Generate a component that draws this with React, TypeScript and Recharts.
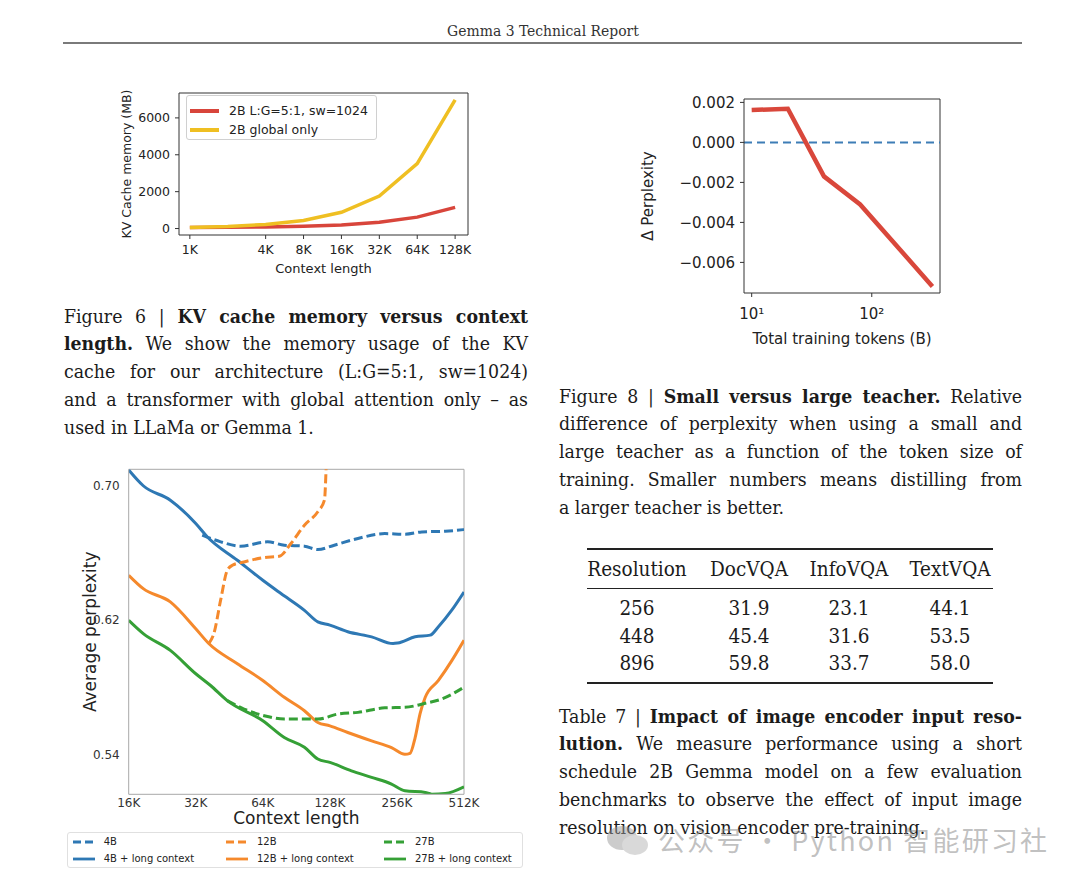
import React from "react";
import { LineChart, Line, XAxis, YAxis, ReferenceLine, Legend } from "recharts";

// ---- Figure 6: KV cache memory vs context length (context in K tokens, memory in MB)
const kvContext = [1, 2, 4, 8, 16, 32, 64, 128];
const kvLocalGlobal = [55, 64, 85, 120, 195, 340, 620, 1150];
const kvGlobalOnly = [55, 110, 220, 440, 880, 1760, 3520, 6980];
const kvTicksX = [1, 4, 8, 16, 32, 64, 128];
const kvTicksY = [0, 2000, 4000, 6000];

// ---- Figure 8: small vs large teacher (tokens in B)
const teacherTokens = [10, 20, 40, 80, 320];
const teacherDelta = [0.00162, 0.00168, -0.0017, -0.0031, -0.0072];
const teacherTicksY = [0.002, 0, -0.002, -0.004, -0.006];
const teacherTicksX = [10, 100];

// ---- Long context perplexity (context in K tokens)
const blueSolidX = [16, 18.6, 24.6, 32, 36, 49.2, 64, 77.2, 98.4, 113, 128, 154, 197, 246, 258, 309, 361, 393, 452, 512];
const blueSolidY = [0.7094, 0.7, 0.6914, 0.6775, 0.6696, 0.6556, 0.6437, 0.6358, 0.6258, 0.6189, 0.617, 0.613, 0.61, 0.606, 0.6063, 0.61, 0.611, 0.616, 0.626, 0.6367];
const blueDashX = [34.2, 41.4, 50.9, 67.2, 79.9, 98.4, 113, 134, 171, 226, 278, 331, 422, 512];
const blueDashY = [0.6706, 0.6666, 0.664, 0.6666, 0.6646, 0.664, 0.662, 0.6646, 0.6686, 0.6715, 0.6711, 0.6725, 0.6729, 0.6739];
const orangeSolidX = [16, 18.6, 24.6, 32, 36.6, 49.2, 64, 79.9, 98.4, 113, 128, 154, 197, 242, 278, 293, 309, 325, 343, 393, 452, 512];
const orangeSolidY = [0.6467, 0.6387, 0.6308, 0.6148, 0.606, 0.594, 0.584, 0.574, 0.566, 0.559, 0.557, 0.553, 0.548, 0.544, 0.54, 0.5406, 0.55, 0.5641, 0.574, 0.584, 0.596, 0.608];
const orangeDashX = [36.6, 38.6, 41.4, 44.3, 46.7, 52.7, 64.9, 75.8, 85.6, 98.4, 113, 121, 123, 125];
const orangeDashY = [0.606, 0.612, 0.632, 0.6496, 0.6526, 0.6546, 0.6572, 0.658, 0.6656, 0.6765, 0.6845, 0.6914, 0.709, 0.74];
const greenSolidX = [16, 18.6, 24.6, 32, 37.3, 44.3, 64, 79.9, 98.4, 113, 128, 160, 197, 242, 278, 343, 367, 422, 512];
const greenSolidY = [0.6198, 0.6119, 0.6019, 0.588, 0.581, 0.572, 0.56, 0.55, 0.5442, 0.5372, 0.5352, 0.5302, 0.5263, 0.5223, 0.5183, 0.5173, 0.5163, 0.5167, 0.5207];
const greenDashX = [44.3, 52.7, 64.9, 79.9, 98.4, 113, 139, 171, 226, 278, 343, 407, 512];
const greenDashY = [0.572, 0.567, 0.563, 0.561, 0.561, 0.561, 0.564, 0.565, 0.5677, 0.568, 0.5704, 0.573, 0.58];
const ctxTicksX = [16, 32, 64, 128, 256, 512];
const ctxTicksY = [0.54, 0.62, 0.7];

// ---- Table 7
const tableHeader = ["Resolution", "DocVQA", "InfoVQA", "TextVQA"];
const tableRows = [
  ["256", "31.9", "23.1", "44.1"],
  ["448", "45.4", "31.6", "53.5"],
  ["896", "59.8", "33.7", "58.0"],
];

// ---- captions, one entry per printed line: [text, bold]
type Seg = [string, boolean];
const fig6Lines: Seg[][] = [
  [["Figure 6 | ", false], ["KV cache memory versus context", true]],
  [["length.", true], [" We show the memory usage of the KV", false]],
  [["cache for our architecture (L:G=5:1, sw=1024)", false]],
  [["and a transformer with global attention only – as", false]],
  [["used in LLaMa or Gemma 1.", false]],
];
const fig8Lines: Seg[][] = [
  [["Figure 8 | ", false], ["Small versus large teacher.", true], [" Relative", false]],
  [["difference of perplexity when using a small and", false]],
  [["large teacher as a function of the token size of", false]],
  [["training. Smaller numbers means distilling from", false]],
  [["a larger teacher is better.", false]],
];
const tab7Lines: Seg[][] = [
  [["Table 7 | ", false], ["Impact of image encoder input reso-", true]],
  [["lution.", true], [" We measure performance using a short", false]],
  [["schedule 2B Gemma model on a few evaluation", false]],
  [["benchmarks to observe the effect of input image", false]],
  [["resolution on vision encoder pre-training.", false]],
];

const PAGE_FONT = '"DejaVu Serif Condensed", "DejaVu Serif", serif';
const PLOT_FONT = '"DejaVu Sans", sans-serif';
const TEXT = "#1b1b1b";

const kvSeries = [
  { key: "local", name: "2B L:G=5:1, sw=1024", color: "#d8453b" },
  { key: "global", name: "2B global only", color: "#efbf22" },
];

const ctxSeries = [
  { name: "4B", color: "#2e78b4", dash: "9 4", xs: blueDashX, ys: blueDashY },
  { name: "4B + long context", color: "#2e78b4", dash: undefined, xs: blueSolidX, ys: blueSolidY },
  { name: "12B", color: "#f5892c", dash: "9 4", xs: orangeDashX, ys: orangeDashY },
  { name: "12B + long context", color: "#f5892c", dash: undefined, xs: orangeSolidX, ys: orangeSolidY },
  { name: "27B", color: "#35a036", dash: "9 4", xs: greenDashX, ys: greenDashY },
  { name: "27B + long context", color: "#35a036", dash: undefined, xs: greenSolidX, ys: greenSolidY },
];

function TextLine({ x, yc, w, segs, last }: { x: number; yc: number; w: number; segs: Seg[]; last?: boolean }) {
  return (
    <div
      style={{
        position: "absolute",
        left: x,
        top: yc - 14,
        width: w,
        height: 28,
        lineHeight: "28px",
        whiteSpace: "nowrap",
        textAlign: last ? "left" : "justify",
        textAlignLast: last ? "left" : "justify",
        fontFamily: PAGE_FONT,
        fontStretch: "condensed",
        fontSize: 19.3,
        color: TEXT,
      }}
    >
      {segs.map(([t, b], i) => (
        <span key={i} style={{ fontWeight: b ? 700 : 400 }}>
          {t}
        </span>
      ))}
    </div>
  );
}

function Caption({ lines, x, y0, w }: { lines: Seg[][]; x: number; y0: number; w: number }) {
  return (
    <>
      {lines.map((segs, i) => (
        <TextLine key={i} x={x} yc={y0 + i * 27.75} w={w} segs={segs} last={i === lines.length - 1} />
      ))}
    </>
  );
}

function KvChart() {
  const data = kvContext.map((c, i) => ({ ctx: c, local: kvLocalGlobal[i], global: kvGlobalOnly[i] }));
  const tick = { fontSize: 12.5, fill: "#222", fontFamily: PLOT_FONT };
  return (
    <div style={{ position: "absolute", left: 100, top: 80 }}>
      <LineChart width={380} height={200} data={data} margin={{ top: 13, right: 12, bottom: 0, left: 0 }}>
        <XAxis
          dataKey="ctx"
          type="number"
          scale="log"
          domain={[0.82, 162]}
          allowDataOverflow
          ticks={kvTicksX}
          tickFormatter={(v) => `${v}K`}
          height={45}
          tick={tick}
          tickSize={4}
          tickMargin={6}
          stroke="#333"
          label={{ value: "Context length", position: "insideBottom", offset: 7, fontSize: 13, fill: "#222", fontFamily: PLOT_FONT }}
        />
        <YAxis
          type="number"
          domain={[-350, 7350]}
          allowDataOverflow
          ticks={kvTicksY}
          width={79}
          tick={tick}
          tickSize={4}
          tickMargin={5}
          stroke="#333"
          label={{
            value: "KV Cache memory (MB)",
            angle: -90,
            position: "insideLeft",
            offset: 27,
            fontSize: 12.5,
            fill: "#222",
            fontFamily: PLOT_FONT,
            style: { textAnchor: "middle" },
          }}
        />
        <ReferenceLine y={7350} stroke="#333" ifOverflow="visible" />
        <ReferenceLine x={162} stroke="#333" ifOverflow="visible" />
        {kvSeries.map((s) => (
          <Line key={s.key} dataKey={s.key} name={s.name} stroke={s.color} strokeWidth={3.5} dot={false} type="linear" isAnimationActive={false} />
        ))}
        <Legend
          layout="vertical"
          align="center"
          verticalAlign="middle"
          wrapperStyle={{ left: 86, top: 15, width: 191, height: 45 }}
          content={() => (
            <div
              style={{
                width: 191,
                height: 45,
                boxSizing: "border-box",
                border: "1px solid #d0d0d0",
                borderRadius: 3,
                background: "rgba(255,255,255,0.85)",
                padding: "5px 0 0 3px",
                fontFamily: PLOT_FONT,
                fontSize: 12.5,
                color: "#222",
              }}
            >
              {kvSeries.map((s) => (
                <div key={s.key} style={{ display: "flex", alignItems: "center", height: 19 }}>
                  <svg width={29} height={8}>
                    <line x1={0} y1={4} x2={29} y2={4} stroke={s.color} strokeWidth={4} />
                  </svg>
                  <span style={{ marginLeft: 10 }}>{s.name}</span>
                </div>
              ))}
            </div>
          )}
        />
      </LineChart>
    </div>
  );
}

function TeacherChart() {
  const data = teacherTokens.map((t, i) => ({ tokens: t, delta: teacherDelta[i] }));
  const tick = { fontSize: 15, fill: "#222", fontFamily: PLOT_FONT };
  const fmt = (v: number) => (v < 0 ? "\u2212" : "") + Math.abs(v).toFixed(3);
  return (
    <div style={{ position: "absolute", left: 600, top: 80 }}>
      <LineChart width={360} height={280} data={data} margin={{ top: 19, right: 20, bottom: 0, left: 0 }}>
        <XAxis
          dataKey="tokens"
          type="number"
          scale="log"
          domain={[8.63, 370]}
          allowDataOverflow
          ticks={teacherTicksX}
          tickFormatter={(v) => (v === 10 ? "10\u00b9" : "10\u00b2")}
          height={67}
          tick={tick}
          tickSize={4}
          tickMargin={11}
          stroke="#333"
          label={{ value: "Total training tokens (B)", position: "insideBottom", offset: 16, fontSize: 15, fill: "#222", fontFamily: PLOT_FONT }}
        />
        <YAxis
          type="number"
          domain={[-0.00753, 0.00217]}
          allowDataOverflow
          ticks={teacherTicksY}
          tickFormatter={fmt}
          width={144}
          tick={tick}
          tickSize={4}
          tickMargin={5}
          stroke="#333"
          label={{
            value: "\u0394 Perplexity",
            angle: -90,
            position: "insideLeft",
            offset: 48,
            fontSize: 15,
            fill: "#222",
            fontFamily: PLOT_FONT,
            style: { textAnchor: "middle" },
          }}
        />
        <ReferenceLine y={0.00217} stroke="#333" ifOverflow="visible" />
        <ReferenceLine x={370} stroke="#333" ifOverflow="visible" />
        <ReferenceLine y={0} stroke="#3d7db6" strokeWidth={2} strokeDasharray="8 5" />
        <Line dataKey="delta" stroke="#d9473b" strokeWidth={4.5} dot={false} type="linear" isAnimationActive={false} />
      </LineChart>
    </div>
  );
}

function ContextChart() {
  const tick = { fontSize: 12, fill: "#333", fontFamily: PLOT_FONT };
  return (
    <div style={{ position: "absolute", left: 60, top: 460 }}>
      <LineChart width={480} height={420} margin={{ top: 9.3, right: 76, bottom: 50, left: 0 }}>
        <XAxis
          dataKey="x"
          type="number"
          scale="log"
          domain={[16, 512]}
          allowDataOverflow
          ticks={ctxTicksX}
          tickFormatter={(v) => `${v}K`}
          height={35.7}
          tick={tick}
          tickLine={false}
          tickSize={0}
          tickMargin={4}
          stroke="#a8a8a8"
          label={{ value: "Context length", position: "insideBottom", offset: 6, fontSize: 17, fill: "#222", fontFamily: PLOT_FONT }}
        />
        <YAxis
          type="number"
          domain={[0.5162, 0.7098]}
          allowDataOverflow
          ticks={ctxTicksY}
          tickFormatter={(v) => v.toFixed(2)}
          width={68.7}
          tick={tick}
          tickLine={false}
          tickSize={0}
          tickMargin={9}
          stroke="#a8a8a8"
          label={{
            value: "Average perplexity",
            angle: -90,
            position: "insideLeft",
            offset: 30,
            fontSize: 17,
            fill: "#222",
            fontFamily: PLOT_FONT,
            style: { textAnchor: "middle" },
          }}
        />
        <ReferenceLine y={0.7098} stroke="#a8a8a8" ifOverflow="visible" />
        <ReferenceLine x={512} stroke="#a8a8a8" ifOverflow="visible" />
        {ctxSeries.map((s) => (
          <Line
            key={s.name}
            data={s.xs.map((x, i) => ({ x, y: s.ys[i] }))}
            dataKey="y"
            name={s.name}
            stroke={s.color}
            strokeWidth={3}
            strokeDasharray={s.dash}
            dot={false}
            type="monotoneX"
            isAnimationActive={false}
          />
        ))}
        <Legend
          layout="vertical"
          align="center"
          verticalAlign="middle"
          wrapperStyle={{ left: 7.3, top: 372.3, width: 456, height: 36 }}
          content={() => (
            <div
              style={{
                position: "relative",
                width: 456,
                height: 36,
                boxSizing: "border-box",
                border: "1px solid #e0e0e0",
                borderRadius: 3,
                background: "#fff",
                fontFamily: PLOT_FONT,
                fontSize: 10,
                color: "#222",
              }}
            >
              {ctxSeries.map((s, i) => {
                const col = Math.floor(i / 2);
                const row = i % 2;
                const left = [4.4, 157.7, 315.7][col];
                const top = row === 0 ? 8.7 : 25.4;
                return (
                  <div key={s.name} style={{ position: "absolute", left, top: top - 7, height: 14, display: "flex", alignItems: "center", whiteSpace: "nowrap" }}>
                    <svg width={22} height={6}>
                      <line x1={0} y1={3} x2={22} y2={3} stroke={s.color} strokeWidth={2.8} strokeDasharray={s.dash ? "8 4" : undefined} />
                    </svg>
                    <span style={{ marginLeft: 9 }}>{s.name}</span>
                  </div>
                );
              })}
            </div>
          )}
        />
      </LineChart>
    </div>
  );
}

function Table7() {
  const cols = [637, 749, 849, 950];
  const rows = [607.7, 635.7, 663.3];
  const cell = (text: string, x: number, y: number, key: string) => (
    <div
      key={key}
      style={{
        position: "absolute",
        left: x - 60,
        top: y - 14,
        width: 120,
        height: 28,
        lineHeight: "28px",
        textAlign: "center",
        fontFamily: PAGE_FONT,
        fontStretch: "condensed",
        fontSize: 20.5,
        color: TEXT,
      }}
    >
      {text}
    </div>
  );
  const rule = (y: number, h: number) => (
    <div style={{ position: "absolute", left: 587, top: y - h / 2, width: 406, height: h, background: "#222" }} />
  );
  return (
    <>
      {rule(549.3, 2)}
      {tableHeader.map((h, i) => cell(h, cols[i], 569.3, `h${i}`))}
      {rule(588.3, 1.2)}
      {tableRows.map((r, ri) => r.map((v, ci) => cell(v, cols[ci], rows[ri], `c${ri}-${ci}`)))}
      {rule(682.7, 2)}
    </>
  );
}

export default function App() {
  return (
    <div style={{ position: "absolute", left: 0, top: 0, width: 1080, height: 880, background: "#fff", overflow: "hidden" }}>
      <div
        style={{
          position: "absolute",
          left: 0,
          top: 19,
          width: 1086,
          textAlign: "center",
          fontFamily: PAGE_FONT,
          fontStretch: "condensed",
          fontSize: 15.5,
          color: "#333",
          lineHeight: "24px",
        }}
      >
        Gemma 3 Technical Report
      </div>
      <div style={{ position: "absolute", left: 63, top: 41.5, width: 959, height: 2, background: "#7a7a7a" }} />

      <KvChart />
      <Caption lines={fig6Lines} x={64} y0={316.7} w={464} />

      <TeacherChart />
      <Caption lines={fig8Lines} x={559} y0={396.7} w={463} />

      <ContextChart />

      <Table7 />
      <Caption lines={tab7Lines} x={559} y0={716.7} w={463} />

      {/* watermark */}
      <div style={{ position: "absolute", left: 606, top: 824, opacity: 0.5 }}>
        <svg width={44} height={34}>
          <ellipse cx={16} cy={14} rx={15} ry={12} fill="#9a9a9a" />
          <ellipse cx={29} cy={21} rx={13} ry={10} fill="#b5b5b5" />
        </svg>
      </div>
      <div
        style={{
          position: "absolute",
          left: 658,
          top: 822,
          fontFamily: '"Noto Sans CJK SC", "Noto Sans", sans-serif',
          fontSize: 27,
          letterSpacing: 2.2,
          lineHeight: "36px",
          color: "rgba(140,140,140,0.55)",
          whiteSpace: "nowrap",
        }}
      >
        公众号 · Python 智能研习社
      </div>
    </div>
  );
}
